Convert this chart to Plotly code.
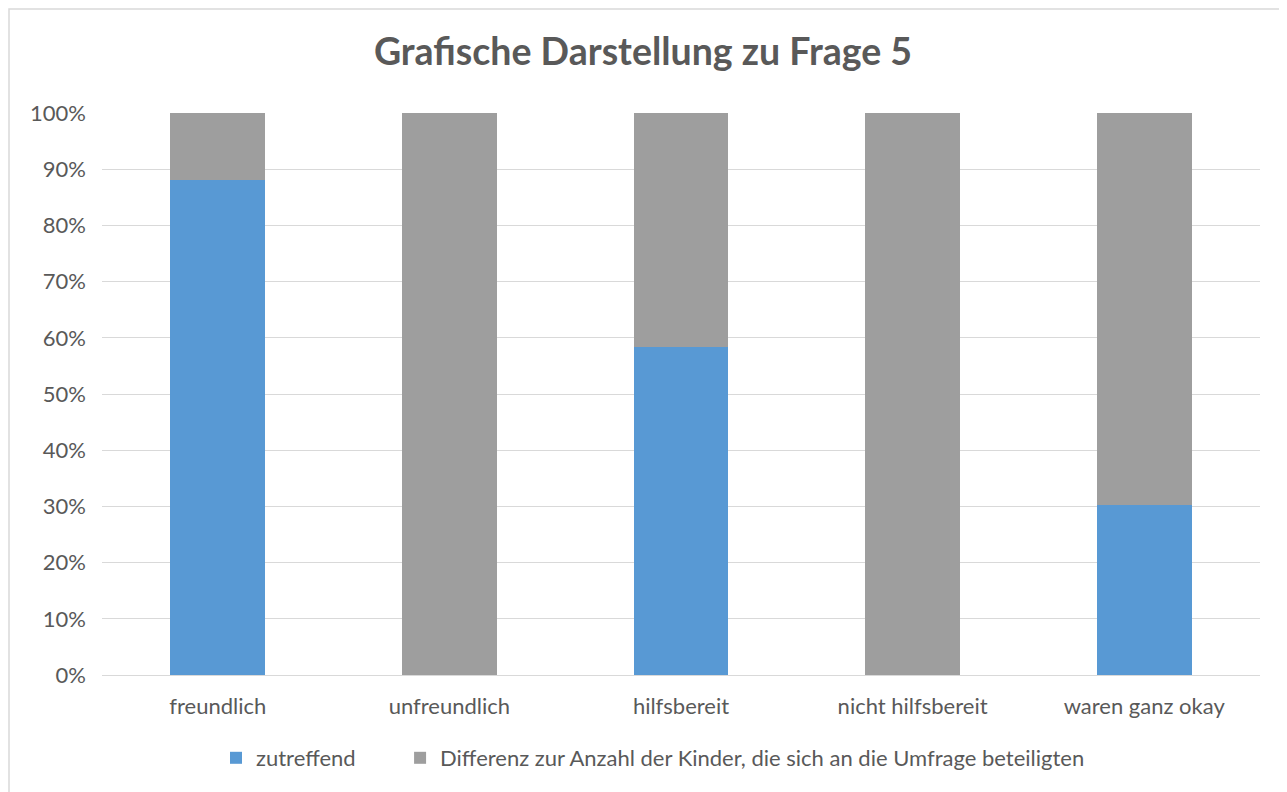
import plotly.graph_objects as go

categories = ["freundlich", "unfreundlich", "hilfsbereit", "nicht hilfsbereit", "waren ganz okay"]
zutreffend = [88.0, 0.0, 58.4, 0.0, 30.3]
differenz = [100 - v for v in zutreffend]
tick_vals = list(range(0, 101, 10))
tick_text = [f"{v}%" for v in tick_vals]
legend_names = ["zutreffend", "Differenz zur Anzahl der Kinder, die sich an die Umfrage beteiligten"]

FONT = "Lato, 'Open Sans', sans-serif"
TXT = "#595959"

# page is offset by the 8px body margin
OFF = 8
W, H = 1287 - OFF, 792 - OFF
ML, MR, MT, MB = 102 - OFF, 27, 113 - OFF, 117
pw, ph = W - ML - MR, H - MT - MB

fig = go.Figure()
fig.add_trace(go.Bar(
    x=categories, y=zutreffend, name=legend_names[0] + "&nbsp;" * 7,
    marker=dict(color="#5899D4", line=dict(width=0)),
))
fig.add_trace(go.Bar(
    x=categories, y=differenz, name=legend_names[1],
    marker=dict(color="#9E9E9E", line=dict(width=0)),
))

fig.update_layout(
    width=W, height=H,
    barmode="stack", bargap=0.59,
    paper_bgcolor="white", plot_bgcolor="white",
    margin=dict(l=ML, r=MR, t=MT, b=MB, autoexpand=False),
    font=dict(family=FONT, color=TXT, size=22),
    title=dict(text="<b>Grafische Darstellung zu Frage 5</b>",
               x=(643 - OFF) / W, xanchor="center", xref="container",
               y=1 - (52 - OFF) / H, yanchor="middle",
               font=dict(size=37.5, color=TXT, family=FONT)),
    xaxis=dict(showgrid=False, showline=False, ticks="", tickfont=dict(size=22, color=TXT),
               ticklabelstandoff=16, tickangle=0),
    yaxis=dict(range=[0, 100], tickvals=tick_vals, ticktext=tick_text,
               showgrid=True, gridcolor="#D9D9D9", gridwidth=1.3,
               zeroline=True, zerolinecolor="#D9D9D9", zerolinewidth=1.3,
               showline=False, ticks="", tickfont=dict(size=22, color=TXT),
               ticklabelstandoff=15),
    legend=dict(orientation="h", xref="paper", x=(653 - 102) / pw, xanchor="center",
                y=-(758 - 675) / ph, yanchor="middle",
                font=dict(size=22, color=TXT), traceorder="normal", itemwidth=30),
    showlegend=True,
)

fig.add_shape(type="rect", xref="paper", yref="paper",
              x0=(9 - 102) / pw, x1=(1297 - 102) / pw,
              y0=-(800 - 675) / ph, y1=(675 - 9) / ph,
              line=dict(color="#D9D9D9", width=1.5), fillcolor="rgba(0,0,0,0)", layer="below")

fig.write_html("out.html")
